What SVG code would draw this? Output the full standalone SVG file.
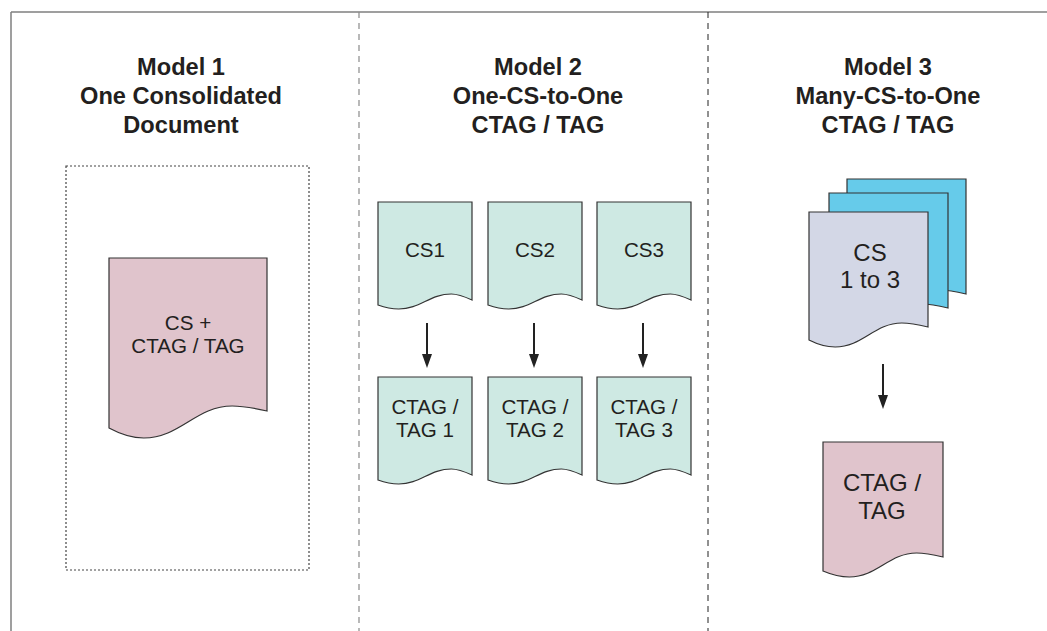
<svg xmlns="http://www.w3.org/2000/svg" width="1047" height="631" viewBox="0 0 1047 631">
<style>
.title{font-family:"Liberation Sans",Arial,sans-serif;font-weight:bold;font-size:23.6px;fill:#231f20;text-anchor:middle}
.lbl{font-family:"Liberation Sans",Arial,sans-serif;font-size:20.6px;fill:#231f20;text-anchor:middle}
.lbl24{font-family:"Liberation Sans",Arial,sans-serif;font-size:24px;fill:#231f20;text-anchor:middle}
.doc{stroke:#333;stroke-width:1.2}
.pink{fill:#e0c4cc}
.mint{fill:#cee9e3}
.blue{fill:#66cbea}
.lav{fill:#d3d7e6}
.arrow{stroke:#222;stroke-width:2;fill:none}
</style>
<rect width="1047" height="631" fill="#fff"/>
<g id="frame">
<path d="M11,12 H1047 M11,12 V631" stroke="#808080" stroke-width="1.5" fill="none"/>
<line x1="359" y1="12" x2="359" y2="631" stroke="#8a8a8a" stroke-width="1.2" stroke-dasharray="6,5"/>
<line x1="708" y1="12" x2="708" y2="631" stroke="#222" stroke-width="1" stroke-dasharray="6,5"/>
</g>
<g id="model1">
<text class="title" x="181" y="75">Model 1</text>
<text class="title" x="181" y="104">One Consolidated</text>
<text class="title" x="181" y="133">Document</text>
<rect x="66" y="166" width="243" height="404" fill="none" stroke="#444" stroke-width="1.2" stroke-dasharray="2,2"/>
</g>
<g id="doc-cs-ctag">
<path class="doc pink" d="M109,258 H267 V411 C255.9,408.5 243.3,406 232.2,406 C195.9,406 180.1,438 143.8,438 C132.7,438 120.1,434 109,428 Z"/>
<text class="lbl" x="188" y="330">CS +</text>
<text class="lbl" x="188" y="353">CTAG / TAG</text>
</g>
<g id="model2">
<text class="title" x="538" y="75">Model 2</text>
<text class="title" x="538" y="104">One-CS-to-One</text>
<text class="title" x="538" y="133">CTAG / TAG</text>
</g>
<g id="cs1">
<path class="doc mint" d="M378,202 H472 V300 C465.4,297 457.9,294 451.3,294 C429.7,294 420.3,309 398.7,309 C392.1,309 384.6,307.4 378,305 Z"/>
<text class="lbl" x="425" y="257">CS1</text>
</g>
<g id="cs2">
<path class="doc mint" d="M488,202 H582 V300 C575.4,297 567.9,294 561.3,294 C539.7,294 530.3,309 508.7,309 C502.1,309 494.6,307.4 488,305 Z"/>
<text class="lbl" x="535" y="257">CS2</text>
</g>
<g id="cs3">
<path class="doc mint" d="M597,202 H691 V300 C684.4,297 676.9,294 670.3,294 C648.7,294 639.3,309 617.7,309 C611.1,309 603.6,307.4 597,305 Z"/>
<text class="lbl" x="644" y="257">CS3</text>
</g>
<g id="tag1">
<path class="doc mint" d="M378,377 H472 V475 C465.4,472 457.9,469 451.3,469 C429.7,469 420.3,484 398.7,484 C392.1,484 384.6,482.4 378,480 Z"/>
<text class="lbl" x="425" y="414">CTAG /</text>
<text class="lbl" x="425" y="437">TAG 1</text>
</g>
<g id="tag2">
<path class="doc mint" d="M488,377 H582 V475 C575.4,472 567.9,469 561.3,469 C539.7,469 530.3,484 508.7,484 C502.1,484 494.6,482.4 488,480 Z"/>
<text class="lbl" x="535" y="414">CTAG /</text>
<text class="lbl" x="535" y="437">TAG 2</text>
</g>
<g id="tag3">
<path class="doc mint" d="M597,377 H691 V475 C684.4,472 676.9,469 670.3,469 C648.7,469 639.3,484 617.7,484 C611.1,484 603.6,482.4 597,480 Z"/>
<text class="lbl" x="644" y="414">CTAG /</text>
<text class="lbl" x="644" y="437">TAG 3</text>
</g>
<g id="model3">
<text class="title" x="888" y="75">Model 3</text>
<text class="title" x="888" y="104">Many-CS-to-One</text>
<text class="title" x="888" y="133">CTAG / TAG</text>
</g>
<g id="cs-stack">
<path class="doc blue" d="M847,179 H966 V294 C957.7,292 948.2,290 939.8,290 C912.5,290 900.6,314 873.2,314 C864.9,314 855.3,311.2 847,307 Z"/>
<path class="doc blue" d="M829,193 H948 V308 C939.7,306 930.2,304 921.8,304 C894.5,304 882.6,328 855.2,328 C846.9,328 837.3,325.2 829,321 Z"/>
<path class="doc lav" d="M809,212 H928 V327 C919.7,325 910.2,323 901.8,323 C874.5,323 862.6,347 835.2,347 C826.9,347 817.3,344.2 809,340 Z"/>
<text class="lbl24" x="870" y="261">CS</text>
<text class="lbl24" x="870" y="288">1 to 3</text>
</g>
<g id="tag-many">
<path class="doc pink" d="M823,442 H943 V557 C934.6,555 925,553 916.6,553 C889,553 877,577 849.4,577 C841,577 831.4,574.6 823,571 Z"/>
<text class="lbl24" x="882" y="491">CTAG /</text>
<text class="lbl24" x="882" y="519">TAG</text>
</g>
<g id="connectors">
<line class="arrow" x1="427" y1="323" x2="427" y2="356"/>
<polygon points="422,354 432,354 427,368" fill="#222"/>
<line class="arrow" x1="534" y1="323" x2="534" y2="356"/>
<polygon points="529,354 539,354 534,368" fill="#222"/>
<line class="arrow" x1="643" y1="323" x2="643" y2="356"/>
<polygon points="638,354 648,354 643,368" fill="#222"/>
<line class="arrow" x1="883" y1="364" x2="883" y2="397"/>
<polygon points="878,395 888,395 883,409" fill="#222"/>
</g>
</svg>
